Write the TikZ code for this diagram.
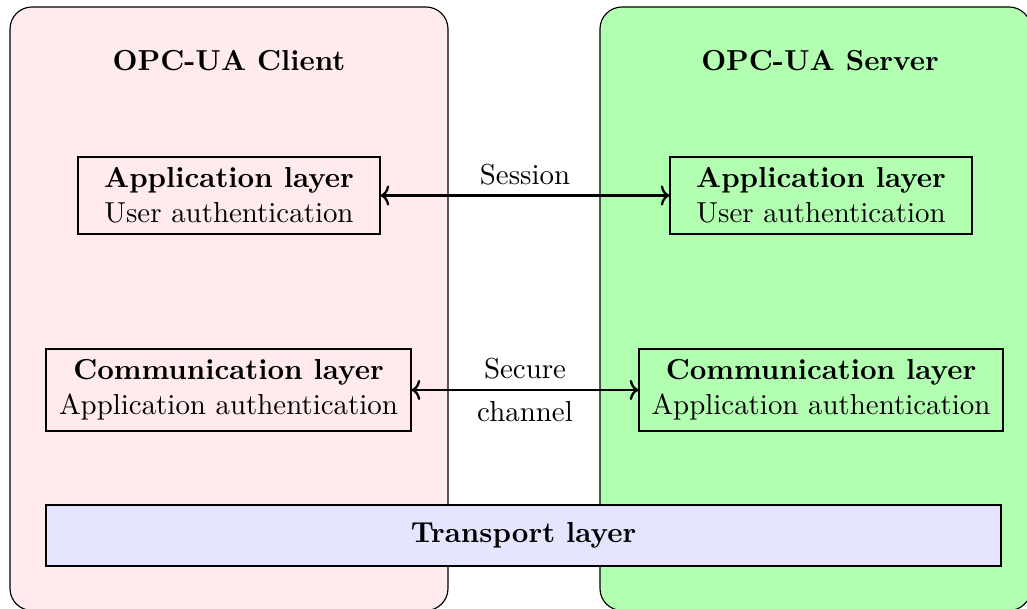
\documentclass[tikz,border=0pt]{standalone}
\usetikzlibrary{arrows.meta}
\begin{document}
\begin{tikzpicture}[x=0.346pt,y=-0.346pt,
  container/.style={draw, rounded corners=7.6pt, line width=0.4pt},
  layerbox/.style={draw, fill=none, align=center, inner sep=0pt, line width=0.4pt},
  title/.style={font=\bfseries},
  link/.style={<->, thick, >={To[length=3pt,width=7pt]}}]
\useasboundingbox (0,0) rectangle (1027,609);
\fill[white] (0,0) rectangle (1027,609);
\draw[container, fill=red!8] (10,7) rectangle (448,610.5);
\draw[container, fill=green!30] (600,7) rectangle (1031,610.5);
\node[title] (ctitle) at (229,61) {OPC-UA Client};
\node[title] (stitle) at (820,61) {OPC-UA Server};
\node[layerbox, minimum width=302*0.346pt, minimum height=77*0.346pt] (capp) at (229,195.5) {\textbf{Application layer}\\User authentication};
\node[layerbox, minimum width=302*0.346pt, minimum height=77*0.346pt] (sapp) at (821,195.5) {\textbf{Application layer}\\User authentication};
\node[layerbox, minimum width=365*0.346pt, minimum height=82*0.346pt] (ccom) at (228.5,390) {\textbf{Communication layer}\\Application authentication};
\node[layerbox, minimum width=364*0.346pt, minimum height=82*0.346pt] (scom) at (821,390) {\textbf{Communication layer}\\Application authentication};
\node[draw, fill=blue!10, minimum width=955*0.346pt, minimum height=61*0.346pt, inner sep=0pt] (trans) at (523.5,535.5) {\textbf{Transport layer}};
\draw[link] (capp.east) -- (sapp.west) node[midway, above=0pt] (sess) {Session};
\draw[link] (ccom.east) -- (scom.west) node[midway, above=0pt] (sec) {Secure} node[midway, below=0.3pt] (chan) {channel};
\end{tikzpicture}
\end{document}
